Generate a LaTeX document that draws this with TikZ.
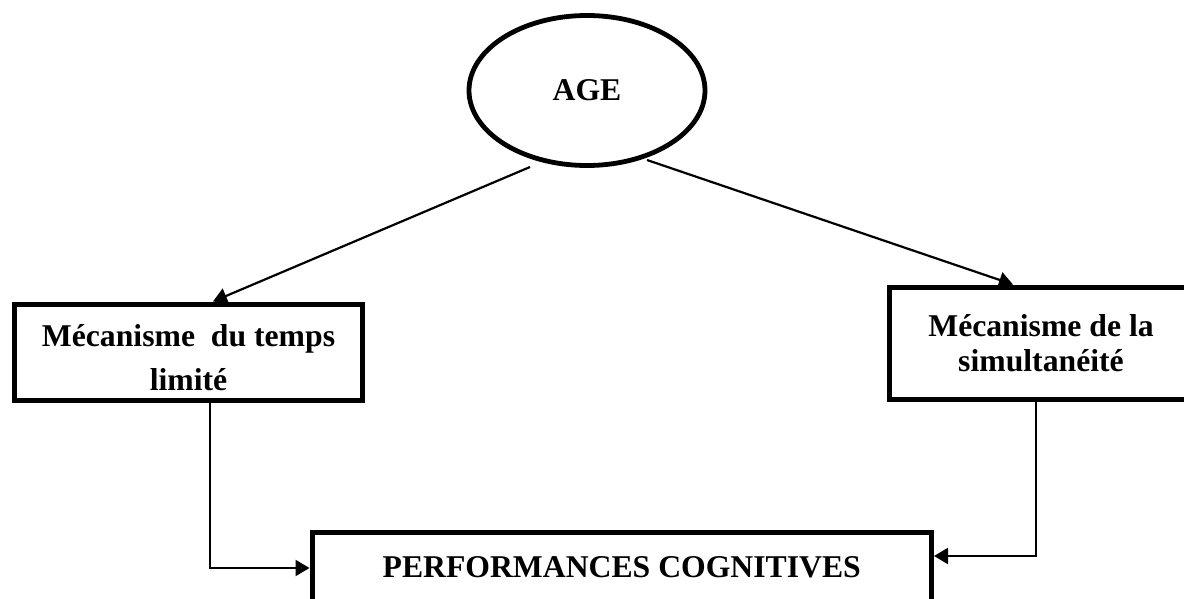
\documentclass[tikz,border=0pt]{standalone}
\usepackage{fontspec}
\setmainfont{Liberation Serif}
\usetikzlibrary{arrows.meta,calc,shapes.geometric}
\begin{document}
\begin{tikzpicture}[x=1pt,y=-1pt,
  txt/.style={font=\fontsize{31.7}{44}\selectfont\bfseries},
  boxthick/.style={draw,line width=5pt,inner sep=0pt},
  conn/.style={line width=2.2pt,-{Triangle[length=14pt,width=16pt]}}]
\useasboundingbox (0,0) rectangle (1184,599);
\clip (0,0) rectangle (1184,599);
\node[draw,ellipse,line width=4.8pt,minimum width=236pt,minimum height=150pt,inner sep=0pt,txt] (age) at (587,90.5) {AGE};
\node[boxthick,minimum width=348pt,minimum height=96pt,align=center,txt] (lbox) at (188.5,352) {\rule{0pt}{33pt}M\'ecanisme\ \ du temps\\limit\'e};
\node[boxthick,minimum width=303pt,minimum height=112.5pt,align=center,txt,font=\fontsize{31.7}{35}\selectfont\bfseries] (rbox) at (1041,343.25) {M\'ecanisme de la\\simultan\'eit\'e};
\node[boxthick,minimum width=619.5pt,minimum height=70pt,txt] (pbox) at (621.75,567.5) {PERFORMANCES COGNITIVES};
\coordinate (agelstart) at (530,167);
\coordinate (agerstart) at (647,160);
\draw[conn] (agelstart) -- (lbox.north -| 213,0);
\draw[conn] (agerstart) -- (rbox.north -| 1013,0);
\coordinate (lturn) at (210,568);
\coordinate (rturn) at (1036,556);
\draw[conn] (lbox.south -| lturn) -- (lturn) -- (pbox.west |- lturn);
\draw[conn] (rbox.south -| rturn) -- (rturn) -- (pbox.east |- rturn);
\end{tikzpicture}
\end{document}
